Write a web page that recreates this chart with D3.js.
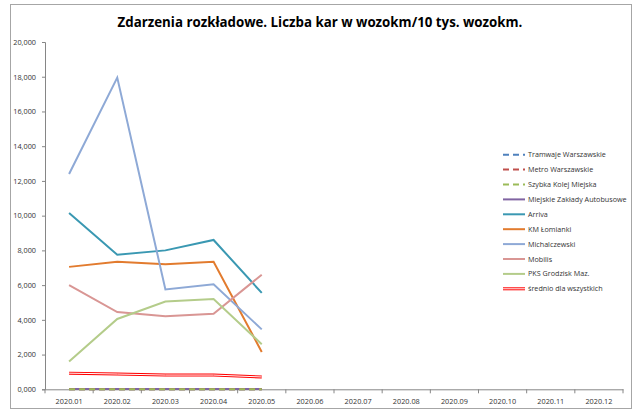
<!DOCTYPE html>
<html>
<head>
<meta charset="utf-8">
<script src="https://cdn.jsdelivr.net/npm/d3@7"></script>
<style>
  body { margin: 0; background: #fff; }
  text { font-family: "Open Sans", "DejaVu Sans", sans-serif; }
</style>
</head>
<body>
<div id="chart"></div>
<script>
// data
var months = ["2020.01","2020.02","2020.03","2020.04","2020.05","2020.06",
              "2020.07","2020.08","2020.09","2020.10","2020.11","2020.12"];
var yTicks = [0, 2, 4, 6, 8, 10, 12, 14, 16, 18, 20];
var yTickLabels = ["0,000","2,000","4,000","6,000","8,000","10,000",
                   "12,000","14,000","16,000","18,000","20,000"];

var seriesNames = ["Tramwaje Warszawskie","Metro Warszawskie","Szybka Kolej Miejska",
                   "Miejskie Zakłady Autobusowe","Arriva","KM Łomianki","Michalczewski",
                   "Mobilis","PKS Grodzisk Maz.","średnio dla wszystkich"];
var tramwaje = [0.01, 0.01, 0.01, 0.01, 0.01];
var metro = [0.01, 0.01, 0.01, 0.01, 0.01];
var skm = [0.01, 0.01, 0.01, 0.01, 0.01];
var mza = [0.02, 0.02, 0.02, 0.02, 0.02];
var arriva = [10.15, 7.75, 8.0, 8.6, 5.55];
var kmLomianki = [7.05, 7.35, 7.2, 7.35, 2.15];
var michalczewski = [12.4, 17.95, 5.75, 6.05, 3.45];
var mobilis = [6.0, 4.45, 4.2, 4.35, 6.6];
var pks = [1.6, 4.05, 5.05, 5.2, 2.6];
var srednio = [0.93, 0.88, 0.82, 0.82, 0.71];

var allValues = [tramwaje, metro, skm, mza, arriva, kmLomianki, michalczewski, mobilis, pks, srednio];
var colors = ["#4F81BD","#C0504D","#9BBB59","#8064A2","#3A98B2","#E27B2E",
              "#8EA9D6","#D99694","#B4CC8A","#FF0000"];
var dashed = [true, true, true, false, false, false, false, false, false, false];

var svgWidth = 638, svgHeight = 416;
var margin = { top: 42, left: 45, right: 15, bottom: 27 };
var width = 623 - margin.left;
var height = 389.3 - margin.top;

var svg = d3.select("#chart").append("svg")
    .attr("width", svgWidth)
    .attr("height", svgHeight);

// outer chart border
svg.append("rect")
    .attr("x", 10.5).attr("y", 4.5)
    .attr("width", 621).attr("height", 404)
    .attr("fill", "#fff")
    .attr("stroke", "#A6A6A6");

svg.append("text")
    .attr("x", 320).attr("y", 27)
    .attr("text-anchor", "middle")
    .attr("font-size", 13.3)
    .attr("font-weight", "bold")
    .text("Zdarzenia rozkładowe. Liczba kar w wozokm/10 tys. wozokm.");

var g = svg.append("g")
    .attr("transform", `translate(${margin.left}, ${margin.top})`);

var x = d3.scaleBand().domain(months).range([0, width]);
var y = d3.scaleLinear().domain([0, 20]).range([height, 0]);

// y axis
var yAxis = g.append("g")
    .call(d3.axisLeft(y).tickValues(yTicks).tickSize(3)
        .tickFormat((d, i) => yTickLabels[i]));
yAxis.selectAll("text").attr("font-size", 7.3).attr("fill", "#333").attr("dx", "-3");

// x axis, ticks on the band edges
var xAxis = g.append("g")
    .attr("transform", `translate(0, ${height})`)
    .call(d3.axisBottom(x).tickSize(0).tickPadding(10));
xAxis.selectAll("text").attr("font-size", 7.3).attr("fill", "#333");
xAxis.selectAll(".edge")
    .data(d3.range(months.length + 1))
    .enter().append("line")
    .attr("x1", d => d * x.step()).attr("x2", d => d * x.step())
    .attr("y1", 0).attr("y2", 4)
    .attr("stroke", "#868686");
g.selectAll(".domain").attr("stroke", "#868686");
g.selectAll(".tick line").attr("stroke", "#868686");

var line = d3.line()
    .x((d, i) => x(months[i]) + x.bandwidth() / 2)
    .y(d => y(d));

// draw the series, zero ones last so the dashes sit on top
var order = [4, 5, 6, 7, 8, 9, 3, 0, 1, 2];
order.forEach(function(k) {
    if (k === 9) {
        g.append("path").attr("d", line(allValues[k]))
            .attr("fill", "none").attr("stroke", colors[k]).attr("stroke-width", 3);
        g.append("path").attr("d", line(allValues[k]))
            .attr("fill", "none").attr("stroke", "#fff").attr("stroke-width", 1);
    } else {
        g.append("path").attr("d", line(allValues[k]))
            .attr("fill", "none").attr("stroke", colors[k]).attr("stroke-width", 2)
            .attr("stroke-dasharray", dashed[k] ? "6,4" : null);
    }
});

// legend
var legend = svg.append("g").attr("transform", "translate(503, 154.7)");
seriesNames.forEach(function(name, k) {
    var row = legend.append("g").attr("transform", `translate(0, ${k * 14.9})`);
    if (k === 9) {
        row.append("line").attr("x1", 0).attr("x2", 22)
            .attr("stroke", colors[k]).attr("stroke-width", 3);
        row.append("line").attr("x1", 0).attr("x2", 22)
            .attr("stroke", "#fff").attr("stroke-width", 1);
    } else {
        row.append("line").attr("x1", 0).attr("x2", 22)
            .attr("stroke", colors[k]).attr("stroke-width", 2)
            .attr("stroke-dasharray", dashed[k] ? "6,4" : null);
    }
    row.append("text").attr("x", 25).attr("y", 2.5)
        .attr("font-size", 7.2).attr("fill", "#333")
        .text(name);
});
</script>
</body>
</html>
